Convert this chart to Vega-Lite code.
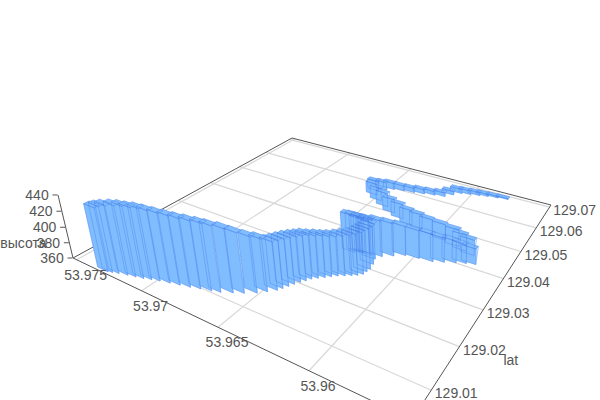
{"$schema":"https://vega.github.io/schema/vega-lite/v6.json","width":600,"height":400,"padding":0,"autosize":{"type":"none"},"background":"#ffffff","config":{"view":{"stroke":null}},
"datasets":{
"frame":[
{"kind":"grid","lon1":53.975,"lat1":129.0041,"alt1":360,"lon2":53.975,"lat2":129.0711,"alt2":360},
{"kind":"grid","lon1":53.97,"lat1":129.0041,"alt1":360,"lon2":53.97,"lat2":129.0711,"alt2":360},
{"kind":"grid","lon1":53.965,"lat1":129.0041,"alt1":360,"lon2":53.965,"lat2":129.0711,"alt2":360},
{"kind":"grid","lon1":53.96,"lat1":129.0041,"alt1":360,"lon2":53.96,"lat2":129.0711,"alt2":360},
{"kind":"grid","lon1":53.9753,"lat1":129.01,"alt1":360,"lon2":53.9553,"lat2":129.01,"alt2":360},
{"kind":"grid","lon1":53.9753,"lat1":129.02,"alt1":360,"lon2":53.9553,"lat2":129.02,"alt2":360},
{"kind":"grid","lon1":53.9753,"lat1":129.03,"alt1":360,"lon2":53.9553,"lat2":129.03,"alt2":360},
{"kind":"grid","lon1":53.9753,"lat1":129.04,"alt1":360,"lon2":53.9553,"lat2":129.04,"alt2":360},
{"kind":"grid","lon1":53.9753,"lat1":129.05,"alt1":360,"lon2":53.9553,"lat2":129.05,"alt2":360},
{"kind":"grid","lon1":53.9753,"lat1":129.06,"alt1":360,"lon2":53.9553,"lat2":129.06,"alt2":360},
{"kind":"grid","lon1":53.9753,"lat1":129.07,"alt1":360,"lon2":53.9553,"lat2":129.07,"alt2":360},
{"kind":"axis","lon1":53.9753,"lat1":129.0041,"alt1":360,"lon2":53.9553,"lat2":129.0041,"alt2":360},
{"kind":"axis","lon1":53.9553,"lat1":129.0041,"alt1":360,"lon2":53.9553,"lat2":129.0711,"alt2":360},
{"kind":"axis","lon1":53.9753,"lat1":129.0041,"alt1":360,"lon2":53.9753,"lat2":129.0711,"alt2":360},
{"kind":"axis","lon1":53.9753,"lat1":129.0711,"alt1":360,"lon2":53.9553,"lat2":129.0711,"alt2":360},
{"kind":"axis","lon1":53.9753,"lat1":129.0041,"alt1":360,"lon2":53.9753,"lat2":129.0041,"alt2":440}
],
"labels":[
{"group":"lon","text":"53.975","lon":53.975,"lat":129.0041,"alt":360},
{"group":"lon","text":"53.97","lon":53.97,"lat":129.0041,"alt":360},
{"group":"lon","text":"53.965","lon":53.965,"lat":129.0041,"alt":360},
{"group":"lon","text":"53.96","lon":53.96,"lat":129.0041,"alt":360},
{"group":"lat","text":"129.01","lon":53.9553,"lat":129.01,"alt":360},
{"group":"lat","text":"129.02","lon":53.9553,"lat":129.02,"alt":360},
{"group":"lat","text":"129.03","lon":53.9553,"lat":129.03,"alt":360},
{"group":"lat","text":"129.04","lon":53.9553,"lat":129.04,"alt":360},
{"group":"lat","text":"129.05","lon":53.9553,"lat":129.05,"alt":360},
{"group":"lat","text":"129.06","lon":53.9553,"lat":129.06,"alt":360},
{"group":"lat","text":"129.07","lon":53.9553,"lat":129.07,"alt":360},
{"group":"alt","text":"360","lon":53.9753,"lat":129.0041,"alt":360},
{"group":"alt","text":"380","lon":53.9753,"lat":129.0041,"alt":380},
{"group":"alt","text":"400","lon":53.9753,"lat":129.0041,"alt":400},
{"group":"alt","text":"420","lon":53.9753,"lat":129.0041,"alt":420},
{"group":"alt","text":"440","lon":53.9753,"lat":129.0041,"alt":440},
{"group":"latTitle","text":"lat","lon":53.9553,"lat":129.0175,"alt":360},
{"group":"altTitle","text":"высота","lon":53.9753,"lat":129.0041,"alt":380}
],
"bars":[
{"lon":53.9582,"lat":129.0691,"alt":361},{"lon":53.9588,"lat":129.0686,"alt":362},{"lon":53.9594,"lat":129.0681,"alt":363},{"lon":53.9599,"lat":129.0675,"alt":364},{"lon":53.96046,"lat":129.0669,"alt":365},{"lon":53.96098,"lat":129.0663,"alt":366},{"lon":53.96136,"lat":129.0647,"alt":365},{"lon":53.96174,"lat":129.063,"alt":365},{"lon":53.96236,"lat":129.0624,"alt":365},{"lon":53.963,"lat":129.0617,"alt":366},{"lon":53.96362,"lat":129.0611,"alt":366},{"lon":53.96428,"lat":129.0606,"alt":367},{"lon":53.96492,"lat":129.06,"alt":369},{"lon":53.9653,"lat":129.0588,"alt":371},{"lon":53.9657,"lat":129.0576,"alt":374},
{"lon":53.9655,"lat":129.0557,"alt":376},{"lon":53.9649,"lat":129.0539,"alt":378},{"lon":53.9642,"lat":129.0523,"alt":379},{"lon":53.96348,"lat":129.0507,"alt":379},{"lon":53.96272,"lat":129.0495,"alt":380},{"lon":53.96196,"lat":129.0483,"alt":380},{"lon":53.96124,"lat":129.0478,"alt":380},{"lon":53.96052,"lat":129.0472,"alt":380},{"lon":53.95964,"lat":129.0466,"alt":381},{"lon":53.95876,"lat":129.0459,"alt":382},{"lon":53.95824,"lat":129.0452,"alt":381},{"lon":53.95772,"lat":129.0446,"alt":380},
{"lon":53.95734,"lat":129.042,"alt":380},{"lon":53.9578,"lat":129.0414,"alt":384},{"lon":53.95828,"lat":129.0406,"alt":388},{"lon":53.95882,"lat":129.0396,"alt":391},{"lon":53.95936,"lat":129.0387,"alt":395},{"lon":53.9601,"lat":129.0383,"alt":396},{"lon":53.96084,"lat":129.0378,"alt":398},{"lon":53.96136,"lat":129.0365,"alt":402},{"lon":53.96186,"lat":129.0352,"alt":406},{"lon":53.96236,"lat":129.0349,"alt":405},{"lon":53.96284,"lat":129.0347,"alt":405},{"lon":53.9631,"lat":129.0342,"alt":407},{"lon":53.9633,"lat":129.0337,"alt":408},
{"lon":53.9629,"lat":129.0344,"alt":404},{"lon":53.96256,"lat":129.0349,"alt":403.5},{"lon":53.9624,"lat":129.0344,"alt":404.5},{"lon":53.96206,"lat":129.0338,"alt":405.5},{"lon":53.9619,"lat":129.0322,"alt":408},{"lon":53.96182,"lat":129.0306,"alt":411},{"lon":53.96186,"lat":129.0296,"alt":411.5},{"lon":53.9619,"lat":129.0286,"alt":412},
{"lon":53.9621,"lat":129.0278,"alt":411},{"lon":53.96234,"lat":129.0272,"alt":410},{"lon":53.96262,"lat":129.0265,"alt":409.5},{"lon":53.96292,"lat":129.0258,"alt":409},{"lon":53.96316,"lat":129.025,"alt":410},{"lon":53.9634,"lat":129.0242,"alt":411.5},{"lon":53.96366,"lat":129.0234,"alt":412.5},{"lon":53.9639,"lat":129.0226,"alt":414},{"lon":53.96406,"lat":129.0217,"alt":415},{"lon":53.96422,"lat":129.0208,"alt":416},{"lon":53.96438,"lat":129.0198,"alt":417},{"lon":53.96452,"lat":129.0188,"alt":417.5},{"lon":53.96466,"lat":129.0178,"alt":418},{"lon":53.9648,"lat":129.0169,"alt":418.5},
{"lon":53.96514,"lat":129.0157,"alt":423},{"lon":53.9655,"lat":129.0145,"alt":427},{"lon":53.96602,"lat":129.0133,"alt":432},{"lon":53.9665,"lat":129.0124,"alt":436},{"lon":53.96704,"lat":129.0114,"alt":439},{"lon":53.9675,"lat":129.0109,"alt":440},{"lon":53.96806,"lat":129.0103,"alt":441},{"lon":53.96858,"lat":129.0097,"alt":442},{"lon":53.96914,"lat":129.0092,"alt":443},{"lon":53.96968,"lat":129.0087,"alt":444},{"lon":53.97024,"lat":129.0082,"alt":445},{"lon":53.97068,"lat":129.0077,"alt":446},{"lon":53.9711,"lat":129.0072,"alt":446},{"lon":53.97154,"lat":129.0068,"alt":446},{"lon":53.972,"lat":129.0064,"alt":445},{"lon":53.9725,"lat":129.0059,"alt":443},{"lon":53.97285,"lat":129.0055,"alt":441},{"lon":53.9731,"lat":129.0052,"alt":439}
]},
"layer":[
{"data":{"name":"frame"},"transform":[
{"filter":"datum.kind=='grid'"},
{"calculate":"(53.9753-datum.lon1)/0.02","as":"p1"},{"calculate":"(datum.lat1-129.0041)/0.067","as":"q1"},{"calculate":"(datum.alt1-360)/80","as":"t1"},
{"calculate":"(53.9753-datum.lon2)/0.02","as":"p2"},{"calculate":"(datum.lat2-129.0041)/0.067","as":"q2"},{"calculate":"(datum.alt2-360)/80","as":"t2"},
{"calculate":"(217*datum.p1+355.6*datum.q1+73-17.33*datum.t1)/(-0.2961*datum.p1+0.4678*datum.q1+1-0.0403*datum.t1)","as":"sx1"},
{"calculate":"(37.6*datum.p1-55.4*datum.q1+258-70.9*datum.t1)/(-0.2961*datum.p1+0.4678*datum.q1+1-0.0403*datum.t1)","as":"sy1"},
{"calculate":"(217*datum.p2+355.6*datum.q2+73-17.33*datum.t2)/(-0.2961*datum.p2+0.4678*datum.q2+1-0.0403*datum.t2)","as":"sx2"},
{"calculate":"(37.6*datum.p2-55.4*datum.q2+258-70.9*datum.t2)/(-0.2961*datum.p2+0.4678*datum.q2+1-0.0403*datum.t2)","as":"sy2"}],
"mark":{"type":"rule","stroke":"#d8d8d8","strokeWidth":1.2,"clip":true},
"encoding":{"x":{"field":"sx1","type":"quantitative","scale":{"domain":[0,600],"range":[0,600],"nice":false,"zero":false},"axis":null},"y":{"field":"sy1","type":"quantitative","scale":{"domain":[0,400],"range":[0,400],"nice":false,"zero":false},"axis":null},"x2":{"field":"sx2"},"y2":{"field":"sy2"}}},
{"data":{"name":"frame"},"transform":[
{"filter":"datum.kind=='axis'"},
{"calculate":"(53.9753-datum.lon1)/0.02","as":"p1"},{"calculate":"(datum.lat1-129.0041)/0.067","as":"q1"},{"calculate":"(datum.alt1-360)/80","as":"t1"},
{"calculate":"(53.9753-datum.lon2)/0.02","as":"p2"},{"calculate":"(datum.lat2-129.0041)/0.067","as":"q2"},{"calculate":"(datum.alt2-360)/80","as":"t2"},
{"calculate":"(217*datum.p1+355.6*datum.q1+73-17.33*datum.t1)/(-0.2961*datum.p1+0.4678*datum.q1+1-0.0403*datum.t1)","as":"sx1"},
{"calculate":"(37.6*datum.p1-55.4*datum.q1+258-70.9*datum.t1)/(-0.2961*datum.p1+0.4678*datum.q1+1-0.0403*datum.t1)","as":"sy1"},
{"calculate":"(217*datum.p2+355.6*datum.q2+73-17.33*datum.t2)/(-0.2961*datum.p2+0.4678*datum.q2+1-0.0403*datum.t2)","as":"sx2"},
{"calculate":"(37.6*datum.p2-55.4*datum.q2+258-70.9*datum.t2)/(-0.2961*datum.p2+0.4678*datum.q2+1-0.0403*datum.t2)","as":"sy2"}],
"mark":{"type":"rule","stroke":"#555555","strokeWidth":1,"clip":true},
"encoding":{"x":{"field":"sx1","type":"quantitative","scale":{"domain":[0,600],"range":[0,600],"nice":false,"zero":false},"axis":null},"y":{"field":"sy1","type":"quantitative","scale":{"domain":[0,400],"range":[0,400],"nice":false,"zero":false},"axis":null},"x2":{"field":"sx2"},"y2":{"field":"sy2"}}},
{"data":{"name":"bars"},"transform":[
{"window":[{"op":"row_number","as":"i"}]},
{"calculate":"(53.9753-datum.lon)/0.02","as":"p"},{"calculate":"(datum.lat-129.0041)/0.067","as":"q"},{"calculate":"(datum.alt-360)/80","as":"t"},
{"calculate":"[0,1,2]","as":"face"},{"flatten":["face"]},
{"calculate":"[0,1,2,3]","as":"corner"},{"flatten":["corner"]},
{"calculate":"datum.i*3+datum.face","as":"k"},
{"calculate":"datum.face==2?datum.p+0.02:((datum.corner==0||datum.corner==3)?datum.p-0.02:datum.p+0.02)","as":"vp"},
{"calculate":"datum.face==1?datum.q-0.008:(datum.corner<2?datum.q-0.008:datum.q+0.008)","as":"vq"},
{"calculate":"datum.face==0?datum.t:(datum.corner<2?0:datum.t)","as":"vt"},
{"calculate":"(217*datum.vp+355.6*datum.vq+73-17.33*datum.vt)/(-0.2961*datum.vp+0.4678*datum.vq+1-0.0403*datum.vt)","as":"sx"},
{"calculate":"(37.6*datum.vp-55.4*datum.vq+258-70.9*datum.vt)/(-0.2961*datum.vp+0.4678*datum.vq+1-0.0403*datum.vt)","as":"sy"}],
"encoding":{"x":{"field":"sx","type":"quantitative","scale":{"domain":[0,600],"range":[0,600],"nice":false,"zero":false},"axis":null},"y":{"field":"sy","type":"quantitative","scale":{"domain":[0,400],"range":[0,400],"nice":false,"zero":false},"axis":null},"detail":{"field":"k","type":"nominal"},"order":{"field":"corner","type":"quantitative"}},
"layer":[
{"mark":{"type":"line","interpolate":"linear-closed","fill":"#80bdff","fillOpacity":1,"stroke":"#80bdff","strokeWidth":0.5,"clip":true}},
{"transform":[{"filter":"datum.face<2"}],"mark":{"type":"line","interpolate":"linear-closed","stroke":"#3f78e6","strokeOpacity":0.5,"strokeWidth":0.7,"clip":true}}
]},
{"data":{"name":"labels"},"transform":[
{"filter":"datum.group=='alt'"},
{"calculate":"(53.9753-datum.lon)/0.02","as":"p"},{"calculate":"(datum.lat-129.0041)/0.067","as":"q"},{"calculate":"(datum.alt-360)/80","as":"t"},
{"calculate":"(217*datum.p+355.6*datum.q+73-17.33*datum.t)/(-0.2961*datum.p+0.4678*datum.q+1-0.0403*datum.t)","as":"sx"},
{"calculate":"(37.6*datum.p-55.4*datum.q+258-70.9*datum.t)/(-0.2961*datum.p+0.4678*datum.q+1-0.0403*datum.t)","as":"sy"}],
"mark":{"type":"tick","orient":"horizontal","size":5,"thickness":1,"xOffset":-3,"color":"#555555","opacity":1},
"encoding":{"x":{"field":"sx","type":"quantitative","scale":{"domain":[0,600],"range":[0,600],"nice":false,"zero":false},"axis":null},"y":{"field":"sy","type":"quantitative","scale":{"domain":[0,400],"range":[0,400],"nice":false,"zero":false},"axis":null}}},
{"data":{"name":"labels"},"transform":[
{"filter":"datum.group=='alt'"},
{"calculate":"(53.9753-datum.lon)/0.02","as":"p"},{"calculate":"(datum.lat-129.0041)/0.067","as":"q"},{"calculate":"(datum.alt-360)/80","as":"t"},
{"calculate":"(217*datum.p+355.6*datum.q+73-17.33*datum.t)/(-0.2961*datum.p+0.4678*datum.q+1-0.0403*datum.t)","as":"sx"},
{"calculate":"(37.6*datum.p-55.4*datum.q+258-70.9*datum.t)/(-0.2961*datum.p+0.4678*datum.q+1-0.0403*datum.t)","as":"sy"}],
"mark":{"type":"text","font":"Liberation Sans","fontSize":14,"fill":"#555555","align":"center","baseline":"middle","dx":-21,"dy":1},
"encoding":{"text":{"field":"text"},"x":{"field":"sx","type":"quantitative","scale":{"domain":[0,600],"range":[0,600],"nice":false,"zero":false},"axis":null},"y":{"field":"sy","type":"quantitative","scale":{"domain":[0,400],"range":[0,400],"nice":false,"zero":false},"axis":null}}},
{"data":{"name":"labels"},"transform":[
{"filter":"datum.group=='lon'"},
{"calculate":"(53.9753-datum.lon)/0.02","as":"p"},{"calculate":"(datum.lat-129.0041)/0.067","as":"q"},{"calculate":"(datum.alt-360)/80","as":"t"},
{"calculate":"(217*datum.p+355.6*datum.q+73-17.33*datum.t)/(-0.2961*datum.p+0.4678*datum.q+1-0.0403*datum.t)","as":"sx"},
{"calculate":"(37.6*datum.p-55.4*datum.q+258-70.9*datum.t)/(-0.2961*datum.p+0.4678*datum.q+1-0.0403*datum.t)","as":"sy"}],
"mark":{"type":"text","font":"Liberation Sans","fontSize":14,"fill":"#555555","align":"center","baseline":"middle","dx":9,"dy":16},
"encoding":{"text":{"field":"text"},"x":{"field":"sx","type":"quantitative","scale":{"domain":[0,600],"range":[0,600],"nice":false,"zero":false},"axis":null},"y":{"field":"sy","type":"quantitative","scale":{"domain":[0,400],"range":[0,400],"nice":false,"zero":false},"axis":null}}},
{"data":{"name":"labels"},"transform":[
{"filter":"datum.group=='lat'"},
{"calculate":"(53.9753-datum.lon)/0.02","as":"p"},{"calculate":"(datum.lat-129.0041)/0.067","as":"q"},{"calculate":"(datum.alt-360)/80","as":"t"},
{"calculate":"(217*datum.p+355.6*datum.q+73-17.33*datum.t)/(-0.2961*datum.p+0.4678*datum.q+1-0.0403*datum.t)","as":"sx"},
{"calculate":"(37.6*datum.p-55.4*datum.q+258-70.9*datum.t)/(-0.2961*datum.p+0.4678*datum.q+1-0.0403*datum.t)","as":"sy"}],
"mark":{"type":"text","font":"Liberation Sans","fontSize":14,"fill":"#555555","align":"center","baseline":"middle","dx":25,"dy":4},
"encoding":{"text":{"field":"text"},"x":{"field":"sx","type":"quantitative","scale":{"domain":[0,600],"range":[0,600],"nice":false,"zero":false},"axis":null},"y":{"field":"sy","type":"quantitative","scale":{"domain":[0,400],"range":[0,400],"nice":false,"zero":false},"axis":null}}},
{"data":{"name":"labels"},"transform":[
{"filter":"datum.group=='latTitle'"},
{"calculate":"(53.9753-datum.lon)/0.02","as":"p"},{"calculate":"(datum.lat-129.0041)/0.067","as":"q"},{"calculate":"(datum.alt-360)/80","as":"t"},
{"calculate":"(217*datum.p+355.6*datum.q+73-17.33*datum.t)/(-0.2961*datum.p+0.4678*datum.q+1-0.0403*datum.t)","as":"sx"},
{"calculate":"(37.6*datum.p-55.4*datum.q+258-70.9*datum.t)/(-0.2961*datum.p+0.4678*datum.q+1-0.0403*datum.t)","as":"sy"}],
"mark":{"type":"text","font":"Liberation Sans","fontSize":14,"fill":"#555555","align":"center","baseline":"middle","dx":58,"dy":4},
"encoding":{"text":{"field":"text"},"x":{"field":"sx","type":"quantitative","scale":{"domain":[0,600],"range":[0,600],"nice":false,"zero":false},"axis":null},"y":{"field":"sy","type":"quantitative","scale":{"domain":[0,400],"range":[0,400],"nice":false,"zero":false},"axis":null}}},
{"data":{"name":"labels"},"transform":[
{"filter":"datum.group=='altTitle'"},
{"calculate":"(53.9753-datum.lon)/0.02","as":"p"},{"calculate":"(datum.lat-129.0041)/0.067","as":"q"},{"calculate":"(datum.alt-360)/80","as":"t"},
{"calculate":"(217*datum.p+355.6*datum.q+73-17.33*datum.t)/(-0.2961*datum.p+0.4678*datum.q+1-0.0403*datum.t)","as":"sx"},
{"calculate":"(37.6*datum.p-55.4*datum.q+258-70.9*datum.t)/(-0.2961*datum.p+0.4678*datum.q+1-0.0403*datum.t)","as":"sy"}],
"mark":{"type":"text","font":"Liberation Sans","fontSize":14,"fill":"#555555","align":"center","baseline":"middle","dx":-46,"dy":1},
"encoding":{"text":{"field":"text"},"x":{"field":"sx","type":"quantitative","scale":{"domain":[0,600],"range":[0,600],"nice":false,"zero":false},"axis":null},"y":{"field":"sy","type":"quantitative","scale":{"domain":[0,400],"range":[0,400],"nice":false,"zero":false},"axis":null}}}
]}
